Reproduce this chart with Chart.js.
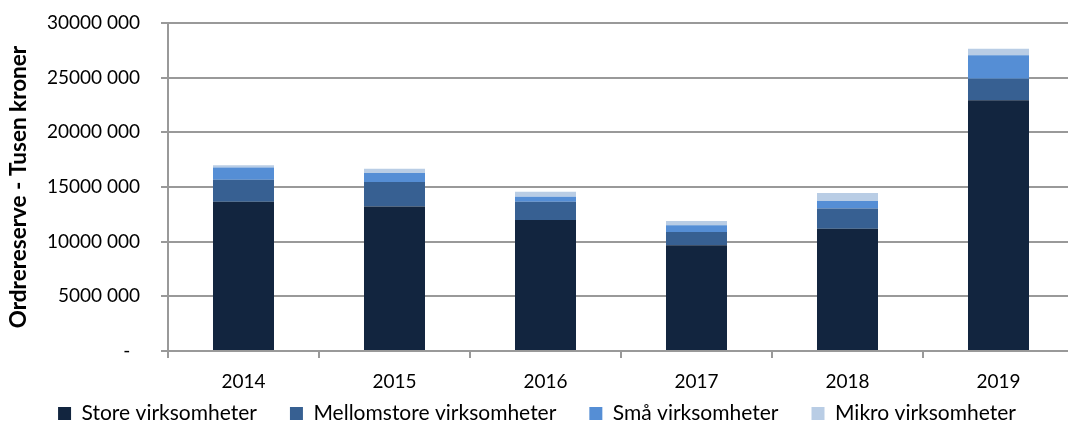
<!DOCTYPE html>
<html>
<head>
<meta charset="utf-8">
<script src="https://cdn.jsdelivr.net/npm/chart.js@4/dist/chart.umd.min.js"></script>
<style>
  html, body { margin: 0; padding: 0; background: #fff; overflow: hidden; }
  #wrap { width: 1076px; height: 423px; }
</style>
</head>
<body>
<div id="wrap"><canvas id="c" width="1076" height="423"></canvas></div>
<script>
const categories = ['2014', '2015', '2016', '2017', '2018', '2019'];
const seriesNames = ['Store virksomheter', 'Mellomstore virksomheter', 'Små virksomheter', 'Mikro virksomheter'];
const store  = [13650000, 13210000, 11990000, 9670000, 11190000, 22940000];
const mellom = [2010000, 2240000, 1650000, 1220000, 1840000, 1960000];
const smaa   = [1130000, 830000, 460000, 610000, 700000, 2160000];
const mikro  = [210000, 390000, 460000, 400000, 710000, 590000];
const yTitle = 'Ordrereserve - Tusen kroner';
const colors = ['#12253f', '#376092', '#558ed5', '#b9cde5'];

const FONT = 'Lato, "Open Sans", sans-serif';
const GRID = '#999999';

const seriesValues = [store, mellom, smaa, mikro];
const datasets = seriesValues.map((vals, i) => ({
  label: seriesNames[i],
  data: vals,
  backgroundColor: colors[i],
  borderWidth: 0,
  categoryPercentage: 1,
  barPercentage: 0.404
}));

function fmt(v) {
  if (v === 0) return '-  ';
  const th = Math.round(v / 1000);
  return th + ' 000';
}

const legendFix = {
  id: 'legendFix',
  beforeLayout(chart) {
    const lg = chart.legend;
    if (lg && !lg._patched) {
      const orig = lg.fit.bind(lg);
      lg.fit = function () { orig(); this.height = 19; };
      lg._patched = true;
    }
  },
  afterLayout(chart) {
    const lg = chart.legend;
    if (lg) {
      lg.top = 370;
      lg.bottom = 423;
      lg.height = 53;
    }
  }
};

new Chart(document.getElementById('c'), {
  type: 'bar',
  data: { labels: categories, datasets },
  plugins: [legendFix],
  options: {
    responsive: false,
    animation: false,
    devicePixelRatio: 1,
    layout: { padding: { top: 23, right: 2, left: 0, bottom: 0 } },
    plugins: {
      tooltip: { enabled: false },
      legend: {
        position: 'bottom',
        labels: {
          color: '#000',
          font: { family: FONT, size: 21 },
          boxWidth: 13,
          boxHeight: 13,
          padding: 33
        }
      }
    },
    scales: {
      x: {
        stacked: true,
        offset: true,
        grid: { drawOnChartArea: false, drawTicks: true, tickLength: 7, offset: true, color: GRID, lineWidth: 2 },
        border: { display: true, color: GRID, width: 2 },
        ticks: { color: '#000', font: { family: FONT, size: 19 }, padding: 12, maxRotation: 0 },
        afterFit(scale) { scale.height = 53; }
      },
      y: {
        stacked: true,
        min: 0,
        max: 30000000,
        grid: { drawTicks: true, tickLength: 7, color: GRID, lineWidth: 2 },
        border: { display: true, color: GRID, width: 2 },
        ticks: {
          stepSize: 5000000,
          color: '#000',
          font: { family: FONT, size: 19 },
          padding: 21,
          callback: (v) => fmt(v)
        },
        title: {
          display: true,
          text: yTitle,
          color: '#000',
          font: { family: FONT, size: 22.5, weight: 'bold' },
          padding: { top: 5, bottom: 4 }
        },
        afterFit(scale) {
          scale.width = 168;
          scale.paddingTop = 0;
          scale.paddingBottom = 0;
        }
      }
    }
  }
});
</script>
</body>
</html>
